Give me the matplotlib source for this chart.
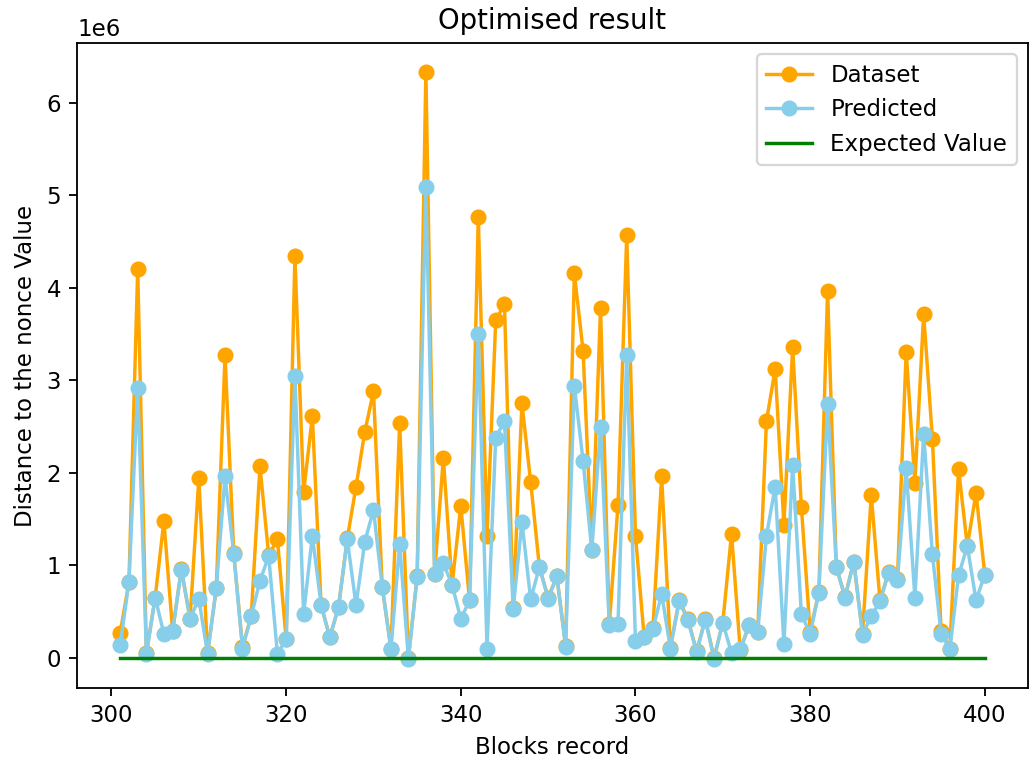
import matplotlib
matplotlib.use('Agg')
import matplotlib.pyplot as plt
import numpy as np

# 区块编号
blocks = np.arange(301, 401)

# 真实值 (单位 1e6)
dataset = [
    0.27, 0.82, 4.20, 0.05, 0.65, 1.48, 0.29, 0.96, 0.42, 1.94,
    0.05, 0.75, 3.27, 1.13, 0.12, 0.45, 2.07, 1.11, 1.28, 0.20,
    4.34, 1.79, 2.61, 0.57, 0.22, 0.55, 1.29, 1.85, 2.44, 2.88,
    0.77, 0.10, 2.54, 0.00, 0.88, 6.33, 0.91, 2.16, 0.79, 1.64,
    0.62, 4.77, 1.32, 3.65, 3.82, 0.54, 2.75, 1.90, 0.98, 0.65,
    0.88, 0.13, 4.16, 3.32, 1.16, 3.78, 0.36, 1.65, 4.57, 1.32,
    0.22, 0.32, 1.96, 0.11, 0.62, 0.42, 0.07, 0.42, 0.00, 0.38,
    1.34, 0.08, 0.35, 0.28, 2.56, 3.12, 1.44, 3.36, 1.63, 0.28,
    0.71, 3.97, 0.98, 0.66, 1.04, 0.26, 1.76, 0.62, 0.93, 0.85,
    3.31, 1.89, 3.72, 2.37, 0.29, 0.10, 2.04, 1.21, 1.78, 0.90,
]

# 预测值 (单位 1e6)
predicted = [
    0.14, 0.82, 2.92, 0.04, 0.65, 0.26, 0.29, 0.95, 0.42, 0.64,
    0.04, 0.75, 1.96, 1.12, 0.10, 0.45, 0.83, 1.10, 0.04, 0.20,
    3.05, 0.47, 1.32, 0.57, 0.22, 0.55, 1.28, 0.57, 1.25, 1.60,
    0.77, 0.09, 1.23, -0.01, 0.87, 5.09, 0.91, 1.02, 0.79, 0.42,
    0.62, 3.50, 0.10, 2.38, 2.56, 0.53, 1.47, 0.63, 0.98, 0.64,
    0.88, 0.12, 2.94, 2.13, 1.16, 2.49, 0.35, 0.37, 3.27, 0.18,
    0.22, 0.31, 0.69, 0.10, 0.61, 0.41, 0.06, 0.41, -0.01, 0.38,
    0.05, 0.09, 0.35, 0.28, 1.32, 1.85, 0.15, 2.08, 0.47, 0.26,
    0.70, 2.74, 0.98, 0.65, 1.04, 0.25, 0.45, 0.61, 0.92, 0.84,
    2.05, 0.65, 2.42, 1.12, 0.26, 0.09, 0.89, 1.21, 0.62, 0.90,
]

# 期望值
expected = [0.0] * len(blocks)

scale = 1e6
dataset = np.array(dataset) * scale
predicted = np.array(predicted) * scale
expected = np.array(expected) * scale

dpi = 165
fig = plt.figure(figsize=(1030 / dpi, 760 / dpi), dpi=dpi)
ax = fig.add_axes([77 / 1030, 1 - 688 / 760, 951 / 1030, 645 / 760])

ax.plot(blocks, dataset, marker='o', color='orange', label='Dataset')
ax.plot(blocks, predicted, marker='o', color='skyblue', label='Predicted')
ax.plot(blocks, expected, color='green', label='Expected Value')

ax.set_title('Optimised result')
ax.set_xlabel('Blocks record')
ax.set_ylabel('Distance to the nonce Value')
ax.legend(loc='upper right')

plt.savefig('out.png', dpi=dpi)
